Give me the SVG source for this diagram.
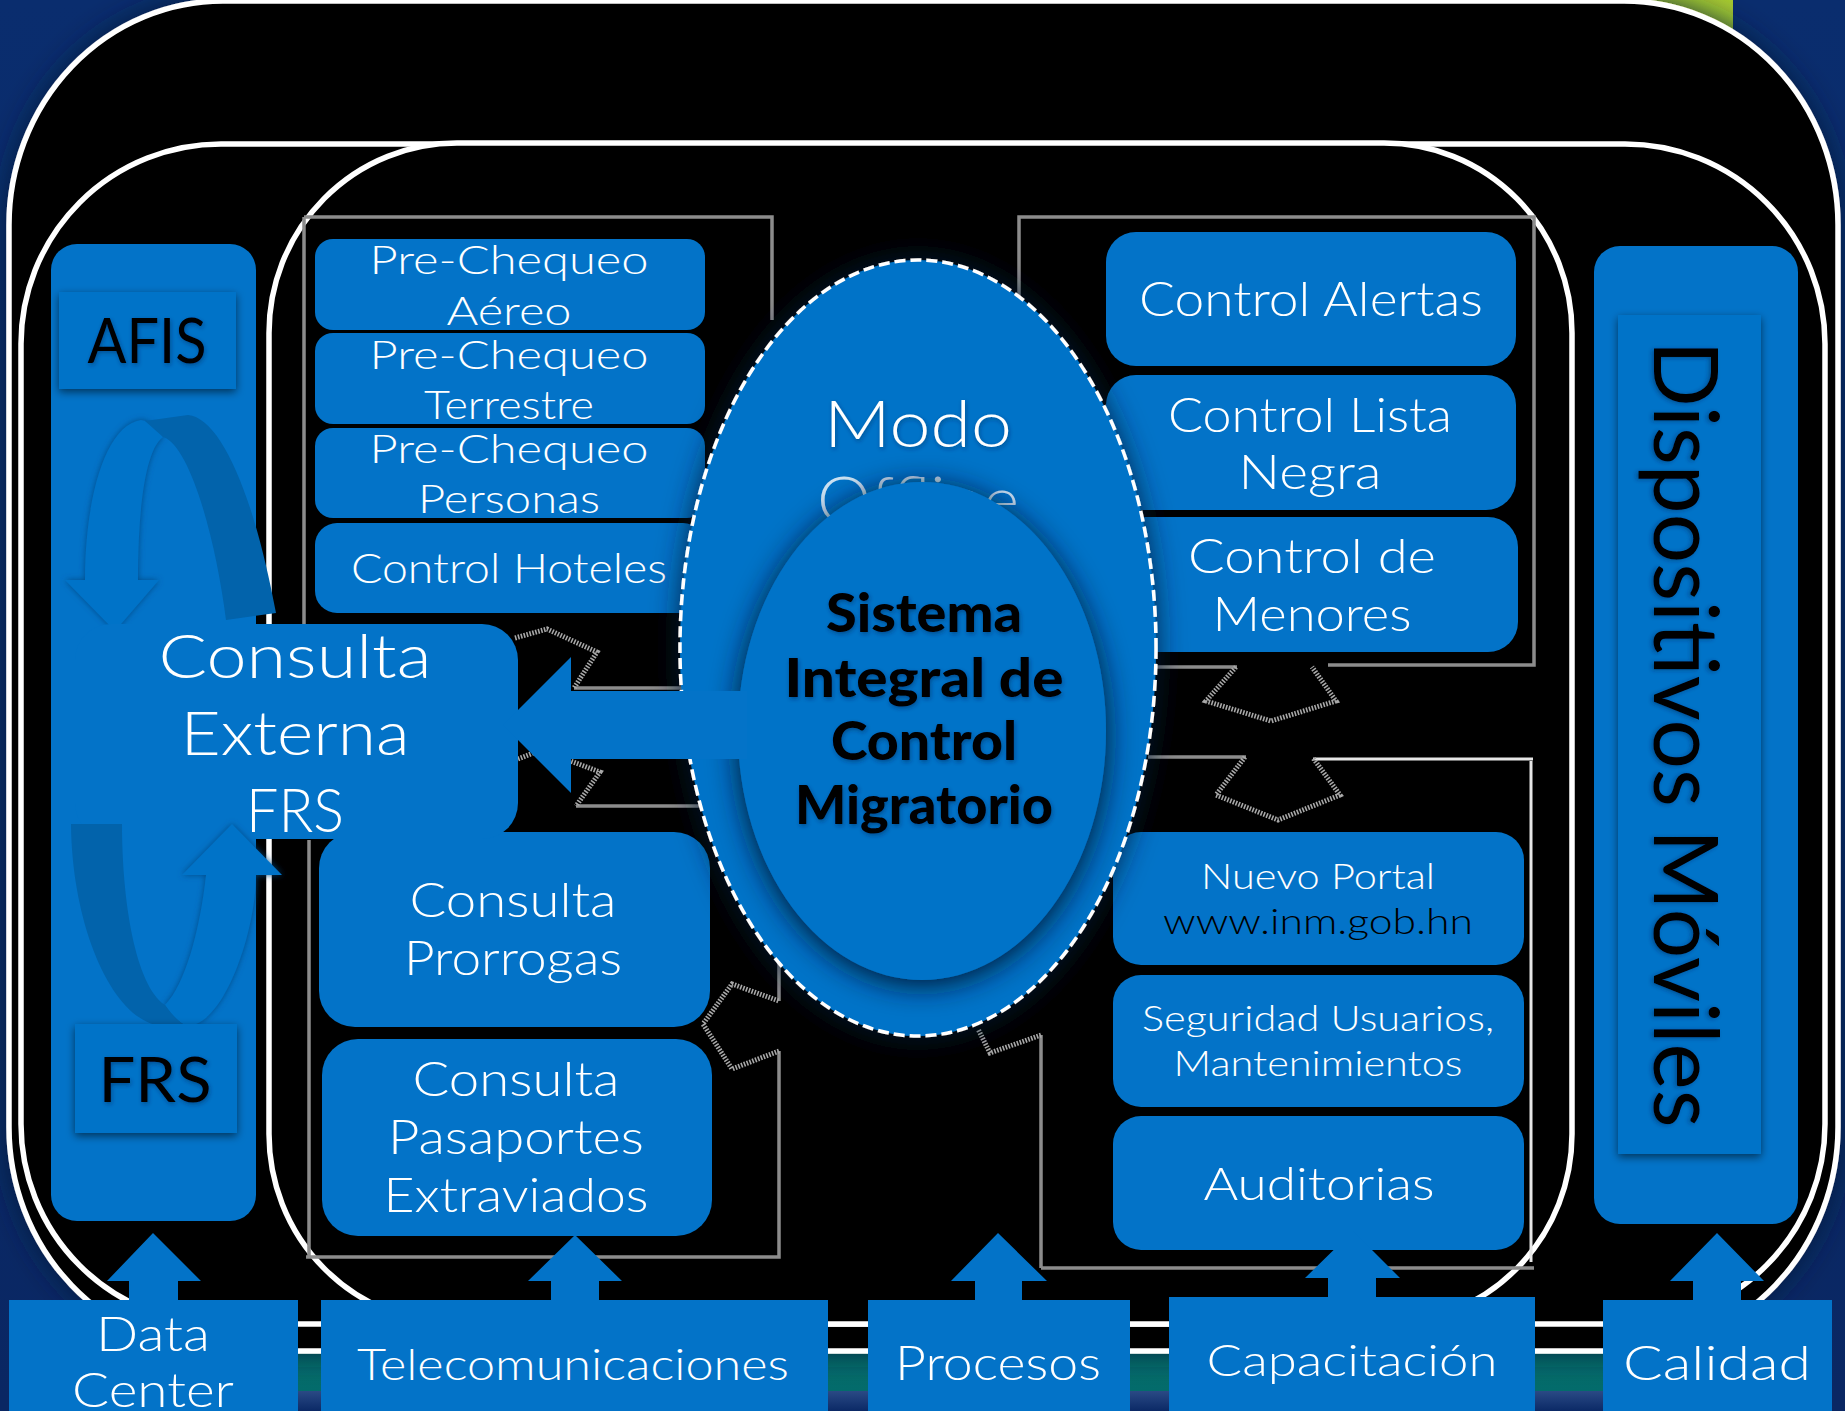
<svg xmlns="http://www.w3.org/2000/svg" width="1845" height="1411" viewBox="0 0 1845 1411">
<style>
text{font-family:"Lato","Open Sans","Liberation Sans",sans-serif;font-weight:300;fill:#fff;text-anchor:middle}
.n{fill:#0373c8}
.dark{fill:#0263ab}
.arm{fill:#0373c8;filter:url(#am)}
.blk{fill:#000;font-weight:400}
.thin{fill:#000;font-weight:300}
.b{fill:#000;font-weight:900;font-size:53px;filter:url(#ts)}
.ring{fill:#000;stroke:#fff;stroke-width:5.5}
.fr{fill:none;stroke:#8c8c8c;stroke-width:3.5}
.wl{fill:none;stroke:#e6e6e6;stroke-width:3}
.st{fill:none;stroke:#a8a8a8;stroke-width:5;stroke-dasharray:1.6 1.4}
.s40{font-size:40px}.s41{font-size:41px}.s47{font-size:47px}.s36{font-size:36px}.s45{font-size:45px}.s44{font-size:44px}.s62{font-size:62px}
</style>
<defs>
<linearGradient id="gt" x1="0" y1="0" x2="0" y2="1"><stop offset="0" stop-color="#a8cc30"/><stop offset=".3" stop-color="#4d9a50"/><stop offset="1" stop-color="#036b6b"/></linearGradient>
<linearGradient id="bg" x1="0" y1="0" x2="0" y2="1"><stop offset="0" stop-color="#0a2d6e"/><stop offset="1" stop-color="#0a2763"/></linearGradient>
<linearGradient id="low" x1="0" y1="0" x2="0" y2="1"><stop offset="0" stop-color="#2a4a85"/><stop offset="1" stop-color="#0b2966"/></linearGradient>
<filter id="sh" x="-20%" y="-20%" width="140%" height="140%"><feDropShadow dx="0" dy="3" stdDeviation="4" flood-color="#000" flood-opacity=".55"/></filter>
<filter id="sh2" x="-20%" y="-20%" width="140%" height="140%"><feDropShadow dx="0" dy="0" stdDeviation="14" flood-color="#001a3a" flood-opacity=".85"/></filter>
<filter id="sh3" x="-20%" y="-20%" width="140%" height="140%"><feDropShadow dx="0" dy="5" stdDeviation="15" flood-color="#00152e" flood-opacity="1"/></filter>
<filter id="ts" x="-10%" y="-20%" width="120%" height="150%"><feDropShadow dx="1" dy="2" stdDeviation="2" flood-color="#00284d" flood-opacity=".45"/></filter>
<filter id="am" x="-20%" y="-20%" width="140%" height="140%"><feDropShadow dx="0" dy="0" stdDeviation="3" flood-color="#004680" flood-opacity=".9"/></filter>
</defs>
<rect id="background" width="1845" height="1411" fill="url(#bg)"/>
<rect id="band" x="230" y="-5" width="1503" height="1396" fill="url(#gt)"/>
<rect x="230" y="1391" width="1503" height="20" fill="url(#low)"/>
<rect id="ring-outer" class="ring" x="9" y="1" width="1829" height="1350" rx="214" ry="224" filter="url(#sh2)"/>
<rect id="ring-middle" class="ring" x="21" y="144" width="1804" height="1180" rx="200" ry="200"/>
<rect id="ring-inner" class="ring" x="269" y="143" width="1303" height="1181" rx="188" ry="190"/>
<g id="connectors">
<path class="fr" d="M304,217H772V320M304,217V625"/>
<path class="fr" d="M574,688H682M576,806H700"/>
<path class="fr" d="M309,840V1257M306,1257H779V1051M779,1001V960"/>
<path class="fr" d="M1019,300V217H1534V665H1328M1157,667H1237"/>
<path class="fr" d="M1148,757H1246M1041,1268H1534M1041,1268V1035"/>
<path class="wl" d="M1313,759H1533M1531,761V1262"/>
<path class="st" d="M515,638L547,629L597,652L574,688"/>
<path class="st" d="M518,759L541,750L600,772L576,806"/>
<path class="st" d="M779,1051L732,1069L703,1024L732,984L779,1001"/>
<path class="st" d="M1236,667L1206,701L1271,721L1336,701L1312,667"/>
<path class="st" d="M1245,757L1216,795L1278,820L1340,795L1313,758"/>
<path class="st" d="M1041,1035L990,1053L978,1029"/>
</g>
<g id="panel-left"><rect class="n" x="51" y="244" width="205" height="977" rx="26"/></g>
<g id="panel-right"><rect class="n" x="1594" y="246" width="204" height="978" rx="26"/></g>
<g id="afis"><rect class="n" x="59" y="292" width="177" height="97" filter="url(#sh)"/><text class="blk" x="147" y="363" font-size="62" textLength="119" lengthAdjust="spacingAndGlyphs" filter="url(#ts)">AFIS</text></g>
<g id="dispositivos"><rect class="n" x="1618" y="315" width="143" height="839" filter="url(#sh)"/><text class="blk" transform="translate(1654,734) rotate(90)" font-size="90" textLength="787" lengthAdjust="spacingAndGlyphs" filter="url(#ts)">Dispositivos Móviles</text></g>
<g id="pre-aereo"><rect class="n" x="315" y="239" width="390" height="91" rx="18"/><text class="s40" x="509" y="274" textLength="279" lengthAdjust="spacingAndGlyphs">Pre-Chequeo</text><text class="s40" x="509" y="325" textLength="125" lengthAdjust="spacingAndGlyphs">Aéreo</text></g>
<g id="pre-terrestre"><rect class="n" x="315" y="333" width="390" height="91" rx="18"/><text class="s40" x="509" y="369" textLength="279" lengthAdjust="spacingAndGlyphs">Pre-Chequeo</text><text class="s40" x="509" y="419" textLength="170" lengthAdjust="spacingAndGlyphs">Terrestre</text></g>
<g id="pre-personas"><rect class="n" x="315" y="428" width="390" height="90" rx="18"/><text class="s40" x="509" y="463" textLength="279" lengthAdjust="spacingAndGlyphs">Pre-Chequeo</text><text class="s40" x="509" y="513" textLength="182" lengthAdjust="spacingAndGlyphs">Personas</text></g>
<g id="control-hoteles"><rect class="n" x="315" y="523" width="390" height="90" rx="22"/><text class="s41" x="509" y="583" textLength="316" lengthAdjust="spacingAndGlyphs">Control Hoteles</text></g>
<g id="consulta-prorrogas"><rect class="n" x="319" y="832" width="391" height="195" rx="36"/><text class="s47" x="513" y="917" textLength="207" lengthAdjust="spacingAndGlyphs">Consulta</text><text class="s47" x="513" y="975" textLength="218" lengthAdjust="spacingAndGlyphs">Prorrogas</text></g>
<g id="consulta-pasaportes"><rect class="n" x="322" y="1039" width="390" height="197" rx="36"/><text class="s47" x="516" y="1096" textLength="207" lengthAdjust="spacingAndGlyphs">Consulta</text><text class="s47" x="516" y="1154" textLength="256" lengthAdjust="spacingAndGlyphs">Pasaportes</text><text class="s47" x="516" y="1212" textLength="265" lengthAdjust="spacingAndGlyphs">Extraviados</text></g>
<g id="control-alertas"><rect class="n" x="1106" y="232" width="410" height="134" rx="30"/><text class="s47" x="1311" y="316" textLength="344" lengthAdjust="spacingAndGlyphs">Control Alertas</text></g>
<g id="control-lista"><rect class="n" x="1106" y="375" width="410" height="135" rx="30"/><text class="s47" x="1310" y="432" textLength="284" lengthAdjust="spacingAndGlyphs">Control Lista</text><text class="s47" x="1310" y="489" textLength="143" lengthAdjust="spacingAndGlyphs">Negra</text></g>
<g id="control-menores"><rect class="n" x="1106" y="517" width="412" height="135" rx="30"/><text class="s47" x="1312" y="573" textLength="248" lengthAdjust="spacingAndGlyphs">Control de</text><text class="s47" x="1312" y="631" textLength="199" lengthAdjust="spacingAndGlyphs">Menores</text></g>
<g id="nuevo-portal"><rect class="n" x="1113" y="832" width="411" height="133" rx="28"/><text class="s36" x="1318" y="889" textLength="234" lengthAdjust="spacingAndGlyphs">Nuevo Portal</text><text class="s36 thin" x="1318" y="934" textLength="310" lengthAdjust="spacingAndGlyphs">www.inm.gob.hn</text></g>
<g id="seguridad"><rect class="n" x="1113" y="975" width="411" height="132" rx="28"/><text class="s36" x="1318" y="1031" textLength="352" lengthAdjust="spacingAndGlyphs">Seguridad Usuarios,</text><text class="s36" x="1318" y="1076" textLength="289" lengthAdjust="spacingAndGlyphs">Mantenimientos</text></g>
<g id="auditorias"><rect class="n" x="1113" y="1116" width="411" height="134" rx="28"/><text class="s45" x="1319" y="1200" textLength="231" lengthAdjust="spacingAndGlyphs">Auditorias</text></g>
<g id="modo-offline"><ellipse class="n" cx="918" cy="648" rx="238" ry="388" stroke="#fff" stroke-width="3.5" stroke-dasharray="11 5" filter="url(#sh2)"/><text x="918" y="447" font-size="66" textLength="188" lengthAdjust="spacingAndGlyphs" filter="url(#ts)">Modo</text><text x="918" y="523" font-size="66" fill-opacity=".8" textLength="202" lengthAdjust="spacingAndGlyphs">Offline</text></g>
<g id="sistema"><ellipse class="n" cx="922" cy="731" rx="184" ry="249" filter="url(#sh3)"/><text class="b" x="924" y="632" textLength="196" lengthAdjust="spacingAndGlyphs">Sistema</text><text class="b" x="924" y="697" textLength="279" lengthAdjust="spacingAndGlyphs">Integral de</text><text class="b" x="924" y="760" textLength="186" lengthAdjust="spacingAndGlyphs">Control</text><text class="b" x="924" y="824" textLength="258" lengthAdjust="spacingAndGlyphs">Migratorio</text></g>
<g id="arrow-top">
<path class="arm" d="M141,420C105,425 85,500 85,580L65,580L115,631L159,580L138,580C138,510 145,450 163,437C158,428 150,421 141,420Z"/>
<path class="dark" d="M145,421L188,415C222,418 255,500 276,613L226,620C216,540 190,445 163,437Z"/>
</g>
<g id="consulta-externa"><rect class="n" x="75" y="624" width="443" height="215" rx="36"/><text class="s62" x="295" y="678" textLength="273" lengthAdjust="spacingAndGlyphs">Consulta</text><text class="s62" x="295" y="755" textLength="229" lengthAdjust="spacingAndGlyphs">Externa</text><text class="s62" x="295" y="832" textLength="98" lengthAdjust="spacingAndGlyphs">FRS</text></g>
<g id="arrow-bottom">
<path class="arm" d="M188,1026C225,1024 256,930 256,875L282,875L232,824L182,875L206,875C200,930 185,985 165,1005C172,1015 180,1024 188,1026Z"/>
<path class="dark" d="M71,824L122,824C122,900 135,985 165,1005C172,1015 180,1024 188,1026L165,1026C115,1026 72,930 71,824Z"/>
</g>
<g id="frs"><rect class="n" x="75" y="1024" width="162" height="109" filter="url(#sh)"/><text class="blk" x="155" y="1102" font-size="62" textLength="113" lengthAdjust="spacingAndGlyphs" filter="url(#ts)">FRS</text></g>
<g id="arrow-main"><path class="n" d="M747,691H571V657L503,725L571,793V759H747Z"/></g>
<g id="up-arrows">
<path class="n" d="M153,1233L201,1281H178V1305H129V1281H107Z"/>
<path class="n" d="M575,1235L622,1281H599V1305H551V1281H528Z"/>
<path class="n" d="M998,1233L1047,1281H1022V1305H975V1281H951Z"/>
<path class="n" d="M1353,1231L1400,1278H1376V1302H1328V1278H1305Z"/>
<path class="n" d="M1717,1233L1764,1281H1741V1305H1693V1281H1670Z"/>
</g>
<g id="data-center"><rect class="n" x="9" y="1300" width="289" height="111"/><text class="s47" x="153" y="1351" textLength="114" lengthAdjust="spacingAndGlyphs">Data</text><text class="s47" x="153" y="1407" textLength="162" lengthAdjust="spacingAndGlyphs">Center</text></g>
<g id="telecomunicaciones"><rect class="n" x="321" y="1300" width="507" height="111"/><text class="s44" x="573" y="1380" textLength="432" lengthAdjust="spacingAndGlyphs">Telecomunicaciones</text></g>
<g id="procesos"><rect class="n" x="868" y="1300" width="262" height="111"/><text class="s47" x="998" y="1380" textLength="206" lengthAdjust="spacingAndGlyphs">Procesos</text></g>
<g id="capacitacion"><rect class="n" x="1169" y="1297" width="366" height="114"/><text class="s44" x="1352" y="1376" textLength="291" lengthAdjust="spacingAndGlyphs">Capacitación</text></g>
<g id="calidad"><rect class="n" x="1603" y="1300" width="229" height="111"/><text class="s47" x="1717" y="1380" textLength="188" lengthAdjust="spacingAndGlyphs">Calidad</text></g>
</svg>
